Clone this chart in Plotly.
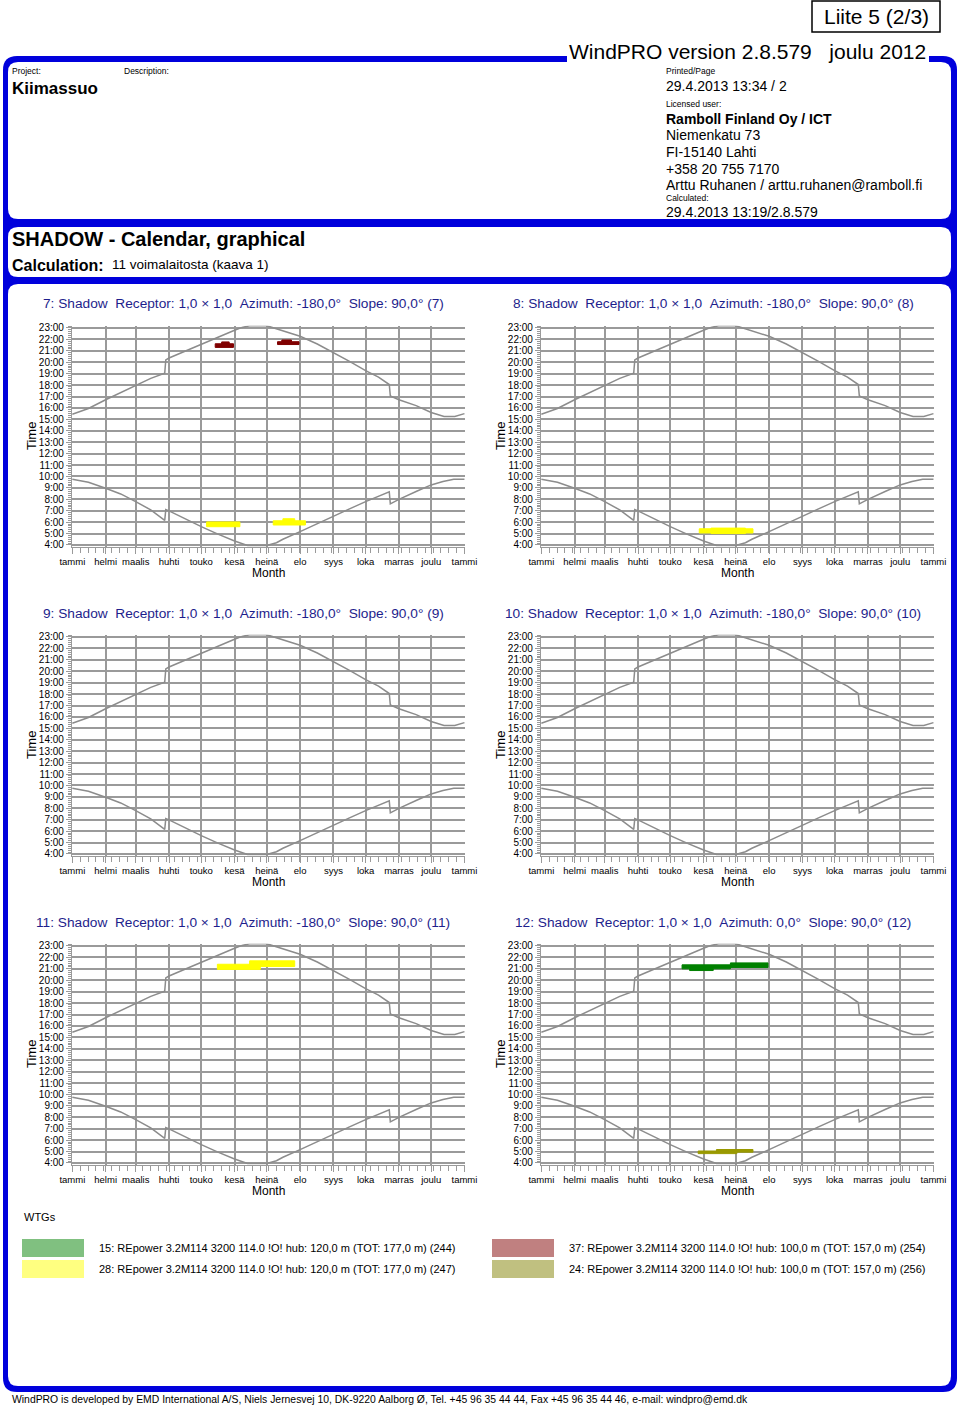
import plotly.graph_objects as go

W, H = 960, 1407


def fx(x):
    return x / W


def fy(y):
    return 1 - y / H


FONT = "Liberation Sans, Arial, Helvetica, sans-serif"
BLUE = "#0000dc"
TITLE_BLUE = "#1e1e8c"
GRID = "#9a9a9a"

# ---------------- data ----------------
MONTHS = ["tammi", "helmi", "maalis", "huhti", "touko", "kesä", "heinä",
          "elo", "syys", "loka", "marras", "joulu", "tammi"]
MONTH_START_DAYS = [0, 31, 59, 90, 120, 151, 181, 212, 243, 273, 304, 334, 365]
HOUR_TICKS = list(range(4, 24))
HOUR_LABELS = [f"{h}:00" for h in HOUR_TICKS]

# sunset / sunrise curves (day of year, clock hour)
SUNSET_DAY = [0, 15, 31, 45, 59, 73, 86, 87, 90, 105, 120, 135, 145, 151, 158,
              165, 181, 188, 196, 212, 228, 243, 258, 273, 285, 295, 296, 304,
              320, 334, 340, 346, 356, 365]
SUNSET_HOUR = [15.45, 15.95, 16.72, 17.33, 17.94, 18.59, 19.05, 20.2, 20.37,
               20.98, 21.6, 22.21, 22.62, 22.8, 23.05, 23.2, 23.2, 22.98, 22.75,
               22.27, 21.6, 20.87, 20.08, 19.26, 18.7, 18.05, 17.05, 16.72,
               16.2, 15.6, 15.4, 15.25, 15.25, 15.5]
SUNRISE_DAY = [0, 15, 31, 45, 59, 73, 86, 87, 90, 105, 120, 135, 145, 151, 163,
               181, 190, 196, 212, 228, 243, 258, 273, 285, 295, 296, 304, 320,
               334, 345, 355, 365]
SUNRISE_HOUR = [9.76, 9.5, 8.97, 8.47, 7.8, 7.07, 6.15, 7.1, 6.98, 6.28, 5.61,
                4.97, 4.56, 4.35, 3.95, 3.95, 4.2, 4.5, 5.17, 5.84, 6.48, 7.16,
                7.8, 8.3, 8.65, 7.6, 8.0, 8.68, 9.26, 9.55, 9.76, 9.76]

# shadow events per receptor: (turbine, first day, last day, earliest hour, latest hour)
SHADOW_7 = [("37", 133, 150, 21.30, 21.62), ("37", 139, 146, 21.55, 21.78),
            ("37", 191, 211, 21.55, 21.80), ("37", 195, 204, 21.75, 21.95),
            ("28", 125, 156, 5.60, 6.02), ("28", 187, 217, 5.75, 6.12),
            ("28", 196, 207, 6.05, 6.30)]
SHADOW_8 = [("28", 147, 197, 5.05, 5.42), ("28", 158, 190, 5.0, 5.48)]
SHADOW_9 = []
SHADOW_10 = []
SHADOW_11 = [("28", 135, 175, 20.95, 21.40), ("28", 165, 207, 21.20, 21.70)]
SHADOW_12 = [("15", 131, 176, 21.0, 21.35), ("15", 138, 160, 20.85, 21.0),
             ("15", 176, 211, 21.12, 21.52),
             ("24", 146, 182, 4.82, 5.05), ("24", 163, 197, 4.95, 5.18)]

RECEPTOR_IDS = [7, 8, 9, 10, 11, 12]
RECEPTOR_AZIMUTH = ["-180,0", "-180,0", "-180,0", "-180,0", "-180,0", "0,0"]
SHADOWS = [SHADOW_7, SHADOW_8, SHADOW_9, SHADOW_10, SHADOW_11, SHADOW_12]

TURBINE_MARK_COLOR = {"15": "#008000", "28": "#ffff00", "37": "#800000", "24": "#999900"}
LEGEND_IDS = ["15", "28", "37", "24"]
LEGEND_COLORS = ["#80c080", "#ffff80", "#c08080", "#c0c080"]
LEGEND_TEXT = [
    "15: REpower 3.2M114 3200 114.0 !O! hub: 120,0 m (TOT: 177,0 m) (244)",
    "28: REpower 3.2M114 3200 114.0 !O! hub: 120,0 m (TOT: 177,0 m) (247)",
    "37: REpower 3.2M114 3200 114.0 !O! hub: 100,0 m (TOT: 157,0 m) (254)",
    "24: REpower 3.2M114 3200 114.0 !O! hub: 100,0 m (TOT: 157,0 m) (256)",
]

# ---------------- layout geometry (pixels) ----------------
COL_X = [(72, 465), (541, 934)]
TITLE_CX = [243, 713]
ROW_OFF = [0, 309, 618]
PLOT_TOP, PLOT_BOT = 325.7, 546.7
Y_RANGE = [3.85, 23.2]

fig = go.Figure()
annotations = []
shapes = []


def rrect(x0, y0, x1, y1, r):
    X0, X1 = fx(x0), fx(x1)
    Y0, Y1 = fy(y0), fy(y1)
    rx, ry = r / W, r / H
    return (f"M {X0+rx},{Y0} L {X1-rx},{Y0} Q {X1},{Y0} {X1},{Y0-ry} "
            f"L {X1},{Y1+ry} Q {X1},{Y1} {X1-rx},{Y1} L {X0+rx},{Y1} "
            f"Q {X0},{Y1} {X0},{Y1+ry} L {X0},{Y0-ry} Q {X0},{Y0} {X0+rx},{Y0} Z")


shapes.append(dict(type="path", xref="paper", yref="paper", path=rrect(3, 56, 957, 1392, 14),
                   fillcolor=BLUE, line=dict(width=0), layer="below"))
for (y0, y1) in [(62, 219), (227, 277), (284, 1386)]:
    shapes.append(dict(type="path", xref="paper", yref="paper", path=rrect(8, y0, 951, y1, 10),
                       fillcolor="white", line=dict(width=0), layer="below"))
shapes.append(dict(type="rect", xref="paper", yref="paper", x0=fx(567), x1=fx(929),
                   y0=fy(62), y1=fy(38), fillcolor="white", line=dict(width=0), layer="below"))
shapes.append(dict(type="rect", xref="paper", yref="paper", x0=fx(812), x1=fx(940),
                   y0=fy(32), y1=fy(1), fillcolor="white", line=dict(color="black", width=1.5),
                   layer="below"))


def txt(x, y, s, size, bold=False, color="black", anchor="left", family=FONT, angle=0):
    annotations.append(dict(xref="paper", yref="paper", x=fx(x), y=fy(y),
                            text=f"<b>{s}</b>" if bold else s, showarrow=False,
                            xanchor=anchor, yanchor="middle", textangle=angle,
                            font=dict(size=size, color=color, family=family)))


txt(876, 16, "Liite 5 (2/3)", 21, anchor="center")
txt(928, 51, "WindPRO version 2.8.579\u00a0\u00a0\u00a0joulu 2012", 21, anchor="right")
txt(10, 71, "Project:", 8.5)
txt(122, 71, "Description:", 8.5)
txt(10, 89, "Kiimassuo", 17, bold=True)
txt(664, 71, "Printed/Page", 8.5)
txt(664, 86, "29.4.2013 13:34 / 2", 14)
txt(664, 104, "Licensed user:", 8.5)
txt(664, 119, "Ramboll Finland Oy / ICT", 14, bold=True)
txt(664, 135, "Niemenkatu 73", 14)
txt(664, 152, "FI-15140 Lahti", 14)
txt(664, 169, "+358 20 755 7170", 14)
txt(664, 185, "Arttu Ruhanen / arttu.ruhanen@ramboll.fi", 14)
txt(664, 198, "Calculated:", 8.5)
txt(664, 212, "29.4.2013 13:19/2.8.579", 14)
txt(10, 239, "SHADOW - Calendar, graphical", 20, bold=True)
txt(10, 265, "Calculation:", 16, bold=True)
txt(110, 264, "11 voimalaitosta (kaava 1)", 13.5)

# ---------------- panels ----------------
for i, rid in enumerate(RECEPTOR_IDS):
    row, col = divmod(i, 2)
    off = ROW_OFF[row]
    xl, xr = COL_X[col]
    n = "" if i == 0 else str(i + 1)
    xa, ya = "x" + n, "y" + n
    fig.layout["xaxis" + n] = dict(
        domain=[fx(xl), fx(xr)], anchor=ya, range=[-0.3, 365.5], automargin=False,
        tickmode="array", tickvals=MONTH_START_DAYS, ticktext=MONTHS,
        showgrid=True, gridcolor=GRID, gridwidth=1.7, zeroline=False,
        showline=True, linecolor=GRID, linewidth=1.2,
        ticks="outside", ticklen=6, tickcolor=GRID, tickwidth=1,
        minor=dict(tickmode="linear", tick0=0, dtick=7.3, ticks="outside",
                   ticklen=5, tickcolor=GRID, showgrid=False),
        tickfont=dict(size=9.5, family=FONT, color="black"), fixedrange=True)
    fig.layout["yaxis" + n] = dict(
        domain=[fy(PLOT_BOT + off), fy(PLOT_TOP + off)], anchor=xa, range=Y_RANGE,
        automargin=False,
        tickmode="array", tickvals=HOUR_TICKS, ticktext=HOUR_LABELS,
        showgrid=True, gridcolor=GRID, gridwidth=1.7, zeroline=False,
        showline=True, linecolor=GRID, linewidth=1.2,
        ticks="outside", ticklen=5, tickcolor=GRID, tickwidth=1,
        minor=dict(tickmode="linear", tick0=0, dtick=1 / 6, ticks="outside",
                   ticklen=3, tickcolor=GRID, showgrid=False),
        tickfont=dict(size=10, family=FONT, color="black"), fixedrange=True)

    fig.add_trace(go.Scatter(x=SUNSET_DAY, y=SUNSET_HOUR, mode="lines",
                             line=dict(color="#8c8c8c", width=1.5),
                             xaxis=xa, yaxis=ya, showlegend=False, hoverinfo="skip"))
    fig.add_trace(go.Scatter(x=SUNRISE_DAY, y=SUNRISE_HOUR, mode="lines",
                             line=dict(color="#8c8c8c", width=1.5),
                             xaxis=xa, yaxis=ya, showlegend=False, hoverinfo="skip"))
    for (tid, d0, d1, h0, h1) in SHADOWS[i]:
        c = TURBINE_MARK_COLOR[tid]
        fig.add_trace(go.Scatter(x=[d0, d1, d1, d0, d0], y=[h0, h0, h1, h1, h0],
                                 mode="lines", fill="toself", fillcolor=c,
                                 line=dict(color=c, width=1),
                                 xaxis=xa, yaxis=ya, showlegend=False, hoverinfo="skip"))

    title = (f"{rid}: Shadow\u00a0\u00a0Receptor: 1,0 × 1,0\u00a0\u00a0Azimuth: "
             f"{RECEPTOR_AZIMUTH[i]}°\u00a0\u00a0Slope: 90,0° ({rid})")
    txt(TITLE_CX[col], 304 + off, title, 13.7, color=TITLE_BLUE, anchor="center")
    txt(xl - 41, 436 + off, "Time", 13, anchor="center", angle=-90)
    txt((xl + xr) / 2, 573 + off, "Month", 12, anchor="center")

# ---------------- legend ----------------
txt(22, 1217, "WTGs", 11)
for k in range(4):
    cx = 22 if k < 2 else 492
    cy = 1239 if k % 2 == 0 else 1260
    shapes.append(dict(type="rect", xref="paper", yref="paper", x0=fx(cx), x1=fx(cx + 62),
                       y0=fy(cy + 18), y1=fy(cy), fillcolor=LEGEND_COLORS[k],
                       line=dict(width=0)))
    txt(cx + 75, cy + 9, LEGEND_TEXT[k], 11)

txt(10, 1399, "WindPRO is developed by EMD International A/S, Niels Jernesvej 10, DK-9220 "
    "Aalborg Ø, Tel. +45 96 35 44 44, Fax +45 96 35 44 46, e-mail: windpro@emd.dk", 10.4)

fig.update_layout(width=W, height=H, margin=dict(l=0, r=0, t=0, b=0, autoexpand=False),
                  paper_bgcolor="white", plot_bgcolor="rgba(0,0,0,0)",
                  showlegend=False, annotations=annotations, shapes=shapes,
                  font=dict(family=FONT))
fig.write_html("out.html", config={"displayModeBar": False})
